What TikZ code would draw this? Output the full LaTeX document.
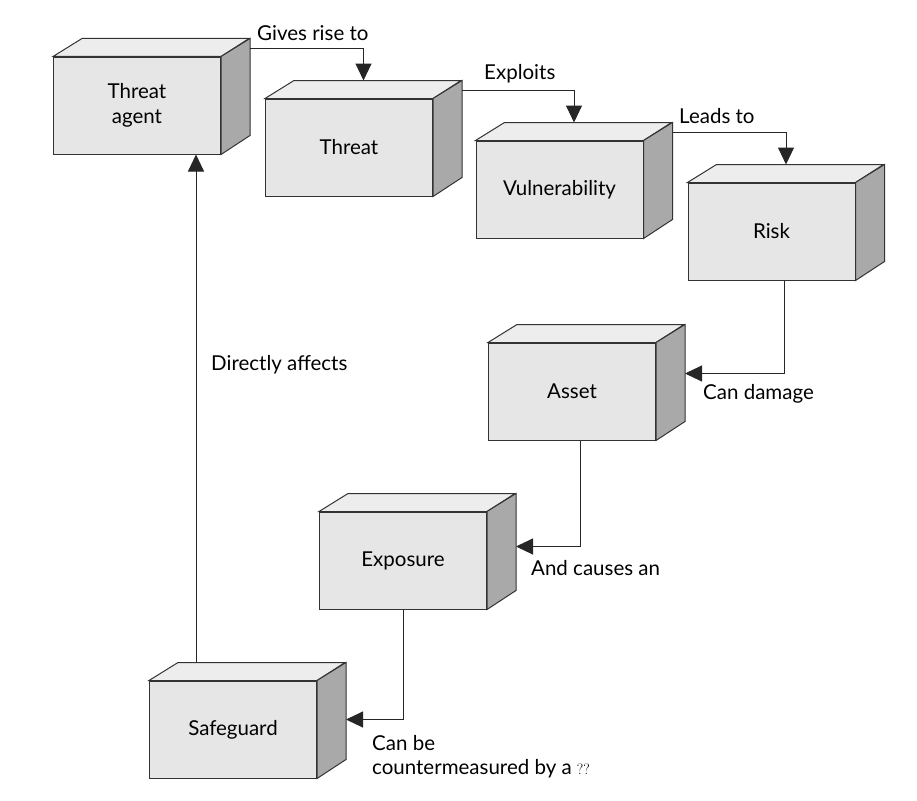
\documentclass[tikz,border=0pt]{standalone}
\usepackage{fontspec}
\setmainfont{Lato}
\usetikzlibrary{calc,arrows.meta}
\definecolor{facegray}{HTML}{E6E6E6}
\definecolor{topgray}{HTML}{EDEDED}
\definecolor{sidegray}{HTML}{A9A9A9}
\tikzset{
  box/.style={draw=black!80, fill=facegray, line width=1pt, minimum width=167pt, minimum height=97pt, inner sep=0pt, align=center, font=\fontsize{20.5}{25}\selectfont},
  flow/.style={draw=black!85, line width=1pt, -{Triangle[length=17pt,width=16pt]}},
  lbl/.style={font=\fontsize{20.5}{25}\selectfont, inner sep=0pt}
}
\newcommand\riskbox[4]{%
  \node[box] (#1) at (#2,#3) {#4};
  \filldraw[draw=black!80, fill=topgray, line width=1pt] (#1.north west) -- ++(29,-18) -- ++(167,0) -- (#1.north east) -- cycle;
  \filldraw[draw=black!80, fill=sidegray, line width=1pt] (#1.north east) -- ++(29,-18) -- ++(0,97) -- (#1.south east) -- cycle;
}
\begin{document}
\begin{tikzpicture}[x=1pt,y=-1pt]
  \useasboundingbox (0,0) rectangle (917,800);

  % Boxes
  \riskbox{agent}{137}{105.5}{Threat\\agent}
  \riskbox{threat}{349}{147.5}{Threat}
  \riskbox{vuln}{559.5}{189.5}{Vulnerability}
  \riskbox{risk}{771.5}{231.5}{Risk}
  \riskbox{asset}{572}{391.5}{Asset}
  \riskbox{expo}{403}{560.5}{Exposure}
  \riskbox{safe}{233}{729.5}{Safeguard}

  % Chain along the top
  \draw[flow] ($(agent.north east)+(29,-8)$) -| ($(threat.north)+(14.5,-18)$);
  \draw[flow] ($(threat.north east)+(29,-8)$) -| ($(vuln.north)+(14.5,-18)$);
  \draw[flow] ($(vuln.north east)+(29,-8)$) -| ($(risk.north)+(14.5,-18)$);

  % Chain down the right
  \draw[flow] ($(risk.south)+(13,0)$) |- ($(asset.east)+(29,-18)$);
  \draw[flow] ($(asset.south)+(8,0)$) |- ($(expo.east)+(29,-14)$);
  \draw[flow] (expo.south) |- ($(safe.east)+(29,-10)$);

  % Back to the agent
  \coordinate (up) at ($(safe.north west)+(47,-18)$);
  \draw[flow] (up) -- (up |- agent.south);

  % Labels
  \node[lbl, anchor=west] (l1) at (257,33) {Gives rise to};
  \node[lbl, anchor=west] (l2) at (484,74) {Exploits};
  \node[lbl, anchor=west] (l3) at (679,116) {Leads to};
  \node[lbl, anchor=west] (l4) at (703,394) {Can damage};
  \node[lbl, anchor=west] (l5) at (531,568) {And causes an};
  \node[lbl, anchor=west] (l6) at (211,365) {Directly affects};
  \node[lbl, anchor=west] (l7) at (372,743) {Can be};
  \node[lbl, anchor=west] (l8) at (372,769) {countermeasured by a {\fontfamily{lmr}\selectfont\fontsize{15}{18}\selectfont ??}};
\end{tikzpicture}
\end{document}
